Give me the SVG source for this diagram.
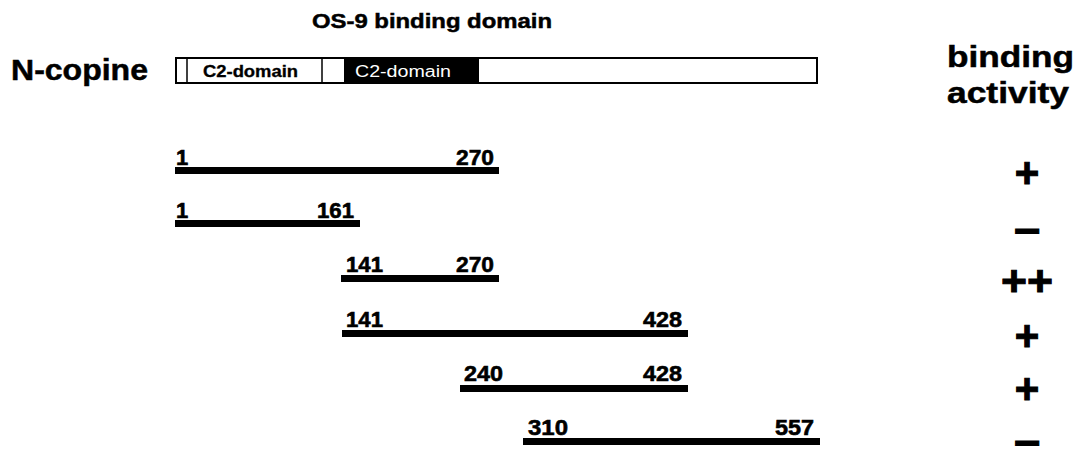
<svg xmlns="http://www.w3.org/2000/svg" width="1079" height="449" viewBox="0 0 1079 449">
<style>
text{font-family:"Liberation Sans",Arial,sans-serif;fill:#000}
.b{font-weight:bold;stroke:#000;stroke-width:0.5}
.lbl{font-weight:bold;font-size:22px;stroke:#000;stroke-width:0.6}
.sign{font-weight:bold;font-size:42px;text-anchor:middle;stroke:#000;stroke-width:1}
.bar{fill:#000}
</style>
<rect width="1079" height="449" fill="#fff"/>
<g id="title">
<text class="b" x="312" y="28" font-size="21" textLength="240" lengthAdjust="spacingAndGlyphs">OS-9 binding domain</text>
</g>
<g id="ncopine-label">
<text class="b" x="11" y="80" font-size="29" textLength="137" lengthAdjust="spacingAndGlyphs">N-copine</text>
</g>
<g id="ncopine-protein">
<rect x="176" y="58" width="641" height="25" fill="#fff" stroke="#000" stroke-width="2"/>
<line x1="187" y1="58" x2="187" y2="83" stroke="#000" stroke-width="1.5"/>
<line x1="322" y1="58" x2="322" y2="83" stroke="#000" stroke-width="1.5"/>
<rect x="344" y="58" width="135" height="25" fill="#000"/>
<text class="b" x="203" y="77" font-size="16" textLength="95" lengthAdjust="spacingAndGlyphs" style="stroke-width:0.3">C2-domain</text>
<text x="355" y="77" font-size="16" textLength="96" lengthAdjust="spacingAndGlyphs" style="fill:#fff">C2-domain</text>
</g>
<g id="activity-header">
<text class="b" x="947" y="67" font-size="29" textLength="127" lengthAdjust="spacingAndGlyphs">binding</text>
<text class="b" x="947" y="103" font-size="29" textLength="122" lengthAdjust="spacingAndGlyphs">activity</text>
</g>
<g id="frag-1-270">
<rect class="bar" x="175" y="167" width="324" height="7"/>
<text class="lbl" x="176" y="165">1</text>
<text class="lbl" x="456" y="165" textLength="38" lengthAdjust="spacingAndGlyphs">270</text>
</g>
<g id="frag-1-161">
<rect class="bar" x="175" y="220" width="185" height="7"/>
<text class="lbl" x="176" y="218">1</text>
<text class="lbl" x="317" y="218" textLength="37" lengthAdjust="spacingAndGlyphs">161</text>
</g>
<g id="frag-141-270">
<rect class="bar" x="341" y="275" width="158" height="7"/>
<text class="lbl" x="346" y="272" textLength="37" lengthAdjust="spacingAndGlyphs">141</text>
<text class="lbl" x="456" y="272" textLength="38" lengthAdjust="spacingAndGlyphs">270</text>
</g>
<g id="frag-141-428">
<rect class="bar" x="342" y="330" width="346" height="7"/>
<text class="lbl" x="346" y="327" textLength="37" lengthAdjust="spacingAndGlyphs">141</text>
<text class="lbl" x="643" y="327" textLength="39" lengthAdjust="spacingAndGlyphs">428</text>
</g>
<g id="frag-240-428">
<rect class="bar" x="460" y="385" width="228" height="7"/>
<text class="lbl" x="464" y="381" textLength="39" lengthAdjust="spacingAndGlyphs">240</text>
<text class="lbl" x="643" y="381" textLength="39" lengthAdjust="spacingAndGlyphs">428</text>
</g>
<g id="frag-310-557">
<rect class="bar" x="523" y="438" width="297" height="7"/>
<text class="lbl" x="528" y="435" textLength="40" lengthAdjust="spacingAndGlyphs">310</text>
<text class="lbl" x="775" y="435" textLength="39" lengthAdjust="spacingAndGlyphs">557</text>
</g>
<g id="activity-signs">
<text class="sign" x="1027" y="187">+</text>
<text class="sign" x="1027" y="245" textLength="27" lengthAdjust="spacingAndGlyphs">−</text>
<text class="sign" x="1027" y="295" textLength="52" lengthAdjust="spacingAndGlyphs">++</text>
<text class="sign" x="1027" y="350">+</text>
<text class="sign" x="1027" y="403">+</text>
<text class="sign" x="1027" y="457" font-size="40" textLength="27" lengthAdjust="spacingAndGlyphs">−</text>
</g>
</svg>
